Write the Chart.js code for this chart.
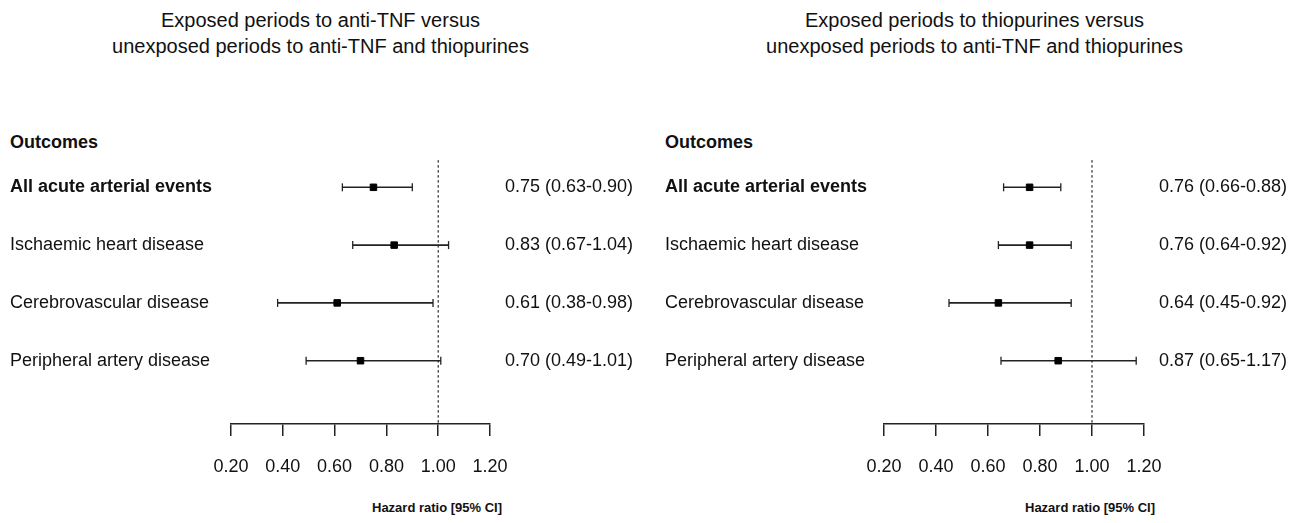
<!DOCTYPE html>
<html>
<head>
<meta charset="utf-8">
<script src="https://cdn.jsdelivr.net/npm/chart.js@4/dist/chart.umd.min.js"></script>
<style>
  html, body { margin:0; padding:0; background:#fff; width:1302px; height:523px; overflow:hidden; }
  body { position:relative; font-family:"Liberation Sans", Arial, Helvetica, sans-serif; color:#111; }
  canvas { position:absolute; top:0; }
  .t { position:absolute; white-space:nowrap; }
  .title { font-size:20px; line-height:26px; text-align:center; width:651px; top:7px; }
  .hdr { font-size:18px; font-weight:bold; line-height:20px; top:132px; }
  .xlab { font-size:13px; font-weight:bold; line-height:16px; top:500px; }
</style>
</head>
<body>
<div class="t title" style="left:-5px;">Exposed periods to anti-TNF versus<br>unexposed periods to anti-TNF and thiopurines</div>
<div class="t title" style="left:649px;">Exposed periods to thiopurines versus<br>unexposed periods to anti-TNF and thiopurines</div>
<div class="t hdr" style="left:10px;">Outcomes</div>
<div class="t hdr" style="left:665px;">Outcomes</div>
<div class="t xlab" style="left:372px;">Hazard ratio [95% CI]</div>
<div class="t xlab" style="left:1025px;">Hazard ratio [95% CI]</div>
<canvas id="c1" width="651" height="523" style="left:0px;"></canvas>
<canvas id="c2" width="651" height="523" style="left:651px;"></canvas>
<script>
// ---- data ----
const outcomes = ["All acute arterial events", "Ischaemic heart disease", "Cerebrovascular disease", "Peripheral artery disease"];
const tickValues = [0.2, 0.4, 0.6, 0.8, 1.0, 1.2];
const refValue = 1.0;

const antiTnfHR   = [0.75, 0.83, 0.61, 0.70];
const antiTnfLow  = [0.63, 0.67, 0.38, 0.49];
const antiTnfHigh = [0.90, 1.04, 0.98, 1.01];

const thioHR   = [0.76, 0.76, 0.64, 0.87];
const thioLow  = [0.66, 0.64, 0.45, 0.65];
const thioHigh = [0.88, 0.92, 0.92, 1.17];

const FONT = '"Liberation Sans", Arial, Helvetica, sans-serif';
const INK = '#111';

function fmt(v){ return v.toFixed(2); }

function makePanel(id, hr, lo, hi, geom) {
  const valueLabels = hr.map((v, i) => `${fmt(v)} (${fmt(lo[i])}-${fmt(hi[i])})`);
  const yMin = -0.507, yMax = 4.095;
  const datasets = [];
  // markers
  datasets.push({
    type: 'scatter',
    data: hr.map((v, i) => ({x: v, y: i})),
    pointStyle: 'rect', pointRadius: 4.6,
    backgroundColor: '#000', borderColor: '#000', borderWidth: 1,
    order: 0
  });
  // CI lines with end caps
  hr.forEach((v, i) => {
    datasets.push({
      type: 'line',
      data: [{x: lo[i], y: i}, {x: hi[i], y: i}],
      borderColor: '#222', borderWidth: 1.6,
      pointStyle: 'line', pointRotation: 90, pointRadius: 4,
      pointBorderColor: '#222', pointBorderWidth: 1.3,
      pointBackgroundColor: '#222',
      order: 1
    });
  });
  // reference line
  datasets.push({
    type: 'line',
    data: [{x: refValue, y: -0.47}, {x: refValue, y: yMax}],
    borderColor: '#000', borderWidth: 1, borderDash: [2.5, 2.5],
    pointRadius: 0, order: 2
  });

  const setTicks = (arr) => (scale) => { scale.ticks = arr.map(v => ({value: v})); };

  new Chart(document.getElementById(id), {
    data: { datasets },
    options: {
      responsive: false, animation: false,
      clip: false,
      layout: { padding: { top: 158, left: geom.padLeft, right: geom.padRight, bottom: 0 } },
      plugins: { legend: { display: false }, tooltip: { enabled: false } },
      scales: {
        x: {
          type: 'linear', position: 'bottom', min: 0.2, max: 1.2,
          afterBuildTicks: setTicks(tickValues),
          afterFit: (s) => { s.height = 99; },
          grid: { drawOnChartArea: false, drawTicks: true, tickLength: 12, color: '#222', lineWidth: 1.5 },
          border: { display: true, color: '#222', width: 1.5 },
          ticks: { padding: 20, color: INK, font: { family: FONT, size: 18 }, callback: (v) => Number(v).toFixed(2), maxRotation: 0, autoSkip: false }
        },
        y: {
          type: 'linear', position: 'left', min: yMin, max: yMax, reverse: true,
          afterBuildTicks: setTicks([0, 1, 2, 3]),
          afterFit: (s) => { s.width = geom.leftWidth; },
          grid: { display: false, drawTicks: false }, border: { display: false },
          ticks: {
            crossAlign: 'far', color: INK, autoSkip: false,
            font: (ctx) => ({ family: FONT, size: 18, weight: ctx.index === 0 ? 'bold' : 'normal' }),
            callback: (v) => outcomes[v]
          }
        },
        y2: {
          type: 'linear', position: 'right', display: true, min: yMin, max: yMax, reverse: true,
          afterBuildTicks: setTicks([0, 1, 2, 3]),
          afterFit: (s) => { s.width = geom.rightWidth; },
          grid: { display: false, drawTicks: false }, border: { display: false },
          ticks: {
            crossAlign: 'far', color: INK, autoSkip: false,
            font: { family: FONT, size: 18 },
            callback: (v) => valueLabels[v]
          }
        }
      }
    }
  });
}

makePanel('c1', antiTnfHR, antiTnfLow, antiTnfHigh, { padLeft: 10, leftWidth: 221, rightWidth: 143, padRight: 18 });
makePanel('c2', thioHR, thioLow, thioHigh, { padLeft: 14, leftWidth: 219, rightWidth: 143, padRight: 15 });
</script>
</body>
</html>
